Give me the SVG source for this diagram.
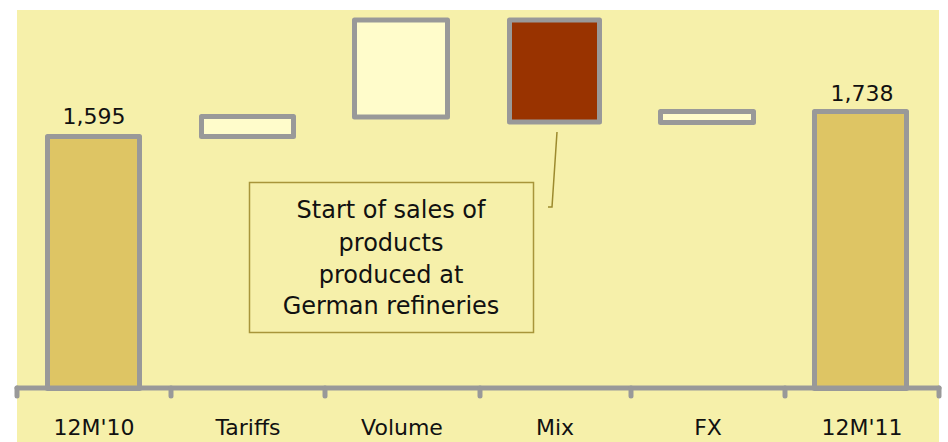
<svg xmlns="http://www.w3.org/2000/svg" width="948" height="442" viewBox="0 0 948 442">
<style>
.bar{stroke:#999999;stroke-width:5;stroke-linejoin:round}
.tot{fill:#DEC564}
.lt{fill:#FFFCCB}
.mix{fill:#993300}
.lbl{font-family:"DejaVu Sans",sans-serif;font-size:22px;fill:#111111;text-anchor:middle}
.call{font-family:"DejaVu Sans",sans-serif;font-size:24px;fill:#111111;text-anchor:middle}
</style>
<rect x="0" y="0" width="948" height="442" fill="#FFFFFF"/>
<rect x="17" y="10" width="922" height="432" fill="#F6F0AA"/>
<g id="bar-12M10"><rect class="bar tot" x="47.5" y="136.5" width="92" height="252"/><text class="lbl" x="94" y="124">1,595</text></g>
<g id="bar-tariffs"><rect class="bar lt" x="201.5" y="116.5" width="92" height="20"/></g>
<g id="bar-volume"><rect class="bar lt" x="354.5" y="20" width="93" height="97"/></g>
<g id="bar-mix"><rect class="bar mix" x="509.5" y="20" width="90" height="102"/></g>
<g id="bar-fx"><rect class="bar lt" x="660.5" y="111.5" width="93" height="11"/></g>
<g id="bar-12M11"><rect class="bar tot" x="814.5" y="111.5" width="92" height="277"/><text class="lbl" x="862" y="101">1,738</text></g>
<g id="axis" stroke="#999999" stroke-width="5" stroke-linecap="round" fill="none">
<line x1="17" y1="388" x2="939" y2="388"/>
<line x1="17" y1="388" x2="17" y2="396"/>
<line x1="171" y1="388" x2="171" y2="396"/>
<line x1="325" y1="388" x2="325" y2="396"/>
<line x1="480" y1="388" x2="480" y2="396"/>
<line x1="631" y1="388" x2="631" y2="396"/>
<line x1="785" y1="388" x2="785" y2="396"/>
<line x1="939" y1="388" x2="939" y2="396"/>
</g>
<g id="labels">
<text class="lbl" x="94" y="435">12M'10</text>
<text class="lbl" x="248" y="435">Tariffs</text>
<text class="lbl" x="402" y="435">Volume</text>
<text class="lbl" x="555" y="435">Mix</text>
<text class="lbl" x="708" y="435">FX</text>
<text class="lbl" x="862" y="435">12M'11</text>
</g>
<g id="connectors"><polyline points="557,132 552,207 548,207" fill="none" stroke="#9C8A2E" stroke-width="1.5"/></g>
<g id="callout">
<rect x="249.5" y="182.5" width="284" height="150" fill="#F6F0AA" stroke="#A8953A" stroke-width="1.5"/>
<text class="call" x="391" y="218">Start of sales of</text>
<text class="call" x="391" y="251">products</text>
<text class="call" x="391" y="283">produced at</text>
<text class="call" x="391" y="314">German refineries</text>
</g>
</svg>
